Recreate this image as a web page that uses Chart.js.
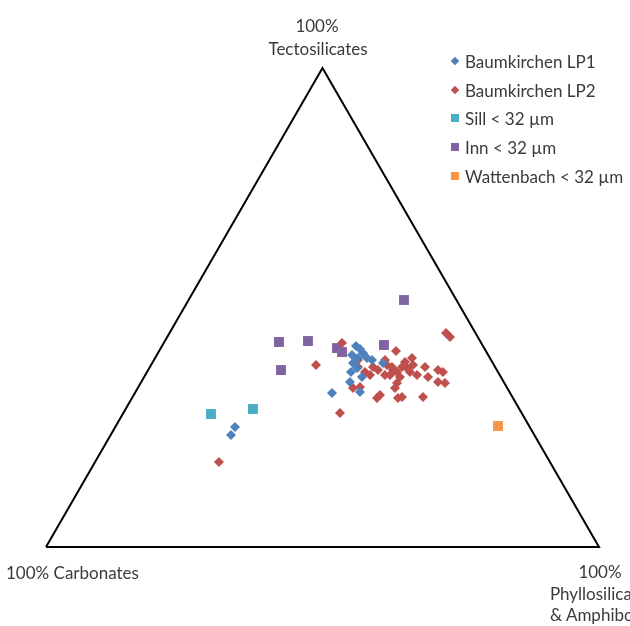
<!DOCTYPE html>
<html>
<head>
<meta charset="utf-8">
<script src="https://cdn.jsdelivr.net/npm/chart.js@4.4.0/dist/chart.umd.min.js"></script>
<style>
  html, body { margin: 0; padding: 0; background: #fff; overflow: hidden; }
  #wrap { position: relative; width: 630px; height: 626px; overflow: hidden; }
  canvas { position: absolute; left: 0; top: 0; }
  .lbl { position: absolute; font-family: Lato, "Open Sans", sans-serif; font-size: 17px; color: #3a3a3a; white-space: nowrap; line-height: 1; }
  .c { transform: translate(-50%, -50%); }
  .l { transform: translate(0, -50%); }
  .leg { position: absolute; font-family: Lato, "Open Sans", sans-serif; font-size: 17px; color: #3a3a3a; white-space: nowrap; line-height: 1; transform: translate(0,-50%); }
  .mk { position: absolute; transform: translate(-50%,-50%); }
</style>
</head>
<body>
<div id="wrap">
  <canvas id="c" width="630" height="626"></canvas>
</div>
<script>
// Ternary compositions in percent: tecto = Tectosilicates, phyllo = Phyllosilicates & Amphiboles
// (carbonates = 100 - tecto - phyllo)
const seriesNames = ["Baumkirchen LP1", "Baumkirchen LP2", "Sill < 32 µm", "Inn < 32 µm", "Wattenbach < 32 µm"];
const seriesColors = ["#4F81BD", "#C0504D", "#4BACC6", "#8064A2", "#F79646"];

const lp1Tecto  = [41.96, 41.34, 40.50, 40.08, 39.46, 39.46, 39.04, 38.41, 37.37, 38.41, 36.53, 34.45, 35.49, 32.36, 32.15, 25.05, 23.38];
const lp1Phyllo = [35.08, 36.11, 37.07, 35.29, 36.69, 38.32, 39.43, 41.73, 37.55, 36.31, 36.88, 37.74, 39.39, 40.60, 35.64, 21.65, 21.76];

const lp2Tecto  = [42.59, 44.68, 43.84, 40.92, 39.04, 37.58, 37.58, 36.95, 38.00, 37.58, 36.53, 37.58, 37.37, 39.46, 38.62, 35.49, 34.24, 33.19, 37.58, 35.49, 36.95, 36.53, 34.45, 34.24, 31.32, 31.32, 31.11, 31.73, 31.11, 33.19, 33.40, 35.91, 27.97, 38.00, 17.75, 36.53, 35.91, 36.53, 38.00, 39.04, 35.91, 36.95, 35.91];
const lp2Phyllo = [32.23, 49.99, 51.14, 42.83, 36.90, 37.63, 40.34, 41.56, 42.66, 43.78, 45.20, 45.59, 46.59, 46.45, 45.61, 46.26, 46.35, 46.51, 49.75, 51.33, 52.41, 53.52, 53.66, 55.03, 52.51, 48.72, 48.09, 44.53, 44.30, 38.92, 40.08, 40.63, 39.17, 29.82, 22.40, 39.42, 44.25, 47.55, 47.37, 41.78, 43.34, 44.27, 49.13];

const sillTecto  = [27.77, 28.81];
const sillPhyllo = [15.95, 23.02];

const innTecto  = [51.57, 42.80, 43.01, 41.54, 40.71, 42.17, 36.95];
const innPhyllo = [38.95, 20.73, 25.87, 31.85, 33.17, 40.03, 24.02];

const wattTecto  = [25.26];
const wattPhyllo = [69.11];

// triangle corners: 100% Carbonates, 100% Tectosilicates, 100% Phyllosilicates
const cornerTecto  = [0, 100, 0, 0];
const cornerPhyllo = [0, 0, 100, 0];

function toXY(tecto, phyllo) {
  return tecto.map((t, i) => ({ x: phyllo[i] + t / 2, y: t }));
}

const mkSeries = (label, t, p, color, style, r) => ({
  type: 'scatter',
  label: label,
  data: toXY(t, p),
  backgroundColor: color,
  borderColor: color,
  borderWidth: 0,
  pointStyle: style,
  pointRadius: r,
  pointHoverRadius: r,
  clip: false
});

const datasets = [
  {
    type: 'line',
    label: 'frame',
    data: toXY(cornerTecto, cornerPhyllo),
    borderColor: '#000',
    borderWidth: 2,
    pointRadius: 0,
    fill: false,
    tension: 0,
    clip: false,
    order: 10
  },
  mkSeries(seriesNames[0], lp1Tecto, lp1Phyllo, seriesColors[0], 'rectRot', 5),
  mkSeries(seriesNames[1], lp2Tecto, lp2Phyllo, seriesColors[1], 'rectRot', 5),
  mkSeries(seriesNames[2], sillTecto, sillPhyllo, seriesColors[2], 'rect', 7),
  mkSeries(seriesNames[3], innTecto, innPhyllo, seriesColors[3], 'rect', 7),
  mkSeries(seriesNames[4], wattTecto, wattPhyllo, seriesColors[4], 'rect', 7)
];

new Chart(document.getElementById('c'), {
  type: 'scatter',
  data: { datasets },
  options: {
    responsive: false,
    animation: false,
    layout: { padding: 0, autoPadding: false },
    plugins: { legend: { display: false }, tooltip: { enabled: false } },
    scales: {
      x: { type: 'linear', display: false, min: -8.318, max: 105.606 },
      y: { type: 'linear', display: false, min: -16.49, max: 114.20 }
    }
  }
});

// Text labels and legend (HTML)
const wrap = document.getElementById('wrap');
function addLabel(text, x, y, cls) {
  const d = document.createElement('div');
  d.className = 'lbl ' + cls;
  d.textContent = text;
  d.style.left = x + 'px';
  d.style.top = y + 'px';
  wrap.appendChild(d);
}
addLabel('100%', 317, 25, 'c');
addLabel('Tectosilicates', 318, 48, 'c');
addLabel('100% Carbonates', 6, 572, 'l');
addLabel('100%', 600, 571, 'c');
addLabel('Phyllosilicates', 602, 593, 'c');
addLabel('& Amphiboles', 602, 614, 'c');

const legY = [61, 90, 118, 147, 176];
const legStyles = ['rectRot', 'rectRot', 'rect', 'rect', 'rect'];
seriesNames.forEach((name, i) => {
  const m = document.createElement('div');
  m.className = 'mk';
  if (legStyles[i] === 'rectRot') {
    m.style.width = '6px'; m.style.height = '6px';
    m.style.transform = 'translate(-50%,-50%) rotate(45deg)';
  } else {
    m.style.width = '8px'; m.style.height = '8px';
  }
  m.style.background = seriesColors[i];
  m.style.left = '455px';
  m.style.top = legY[i] + 'px';
  wrap.appendChild(m);
  const t = document.createElement('div');
  t.className = 'leg';
  t.textContent = name;
  t.style.left = '465px';
  t.style.top = legY[i] + 'px';
  wrap.appendChild(t);
});
</script>
</body>
</html>
